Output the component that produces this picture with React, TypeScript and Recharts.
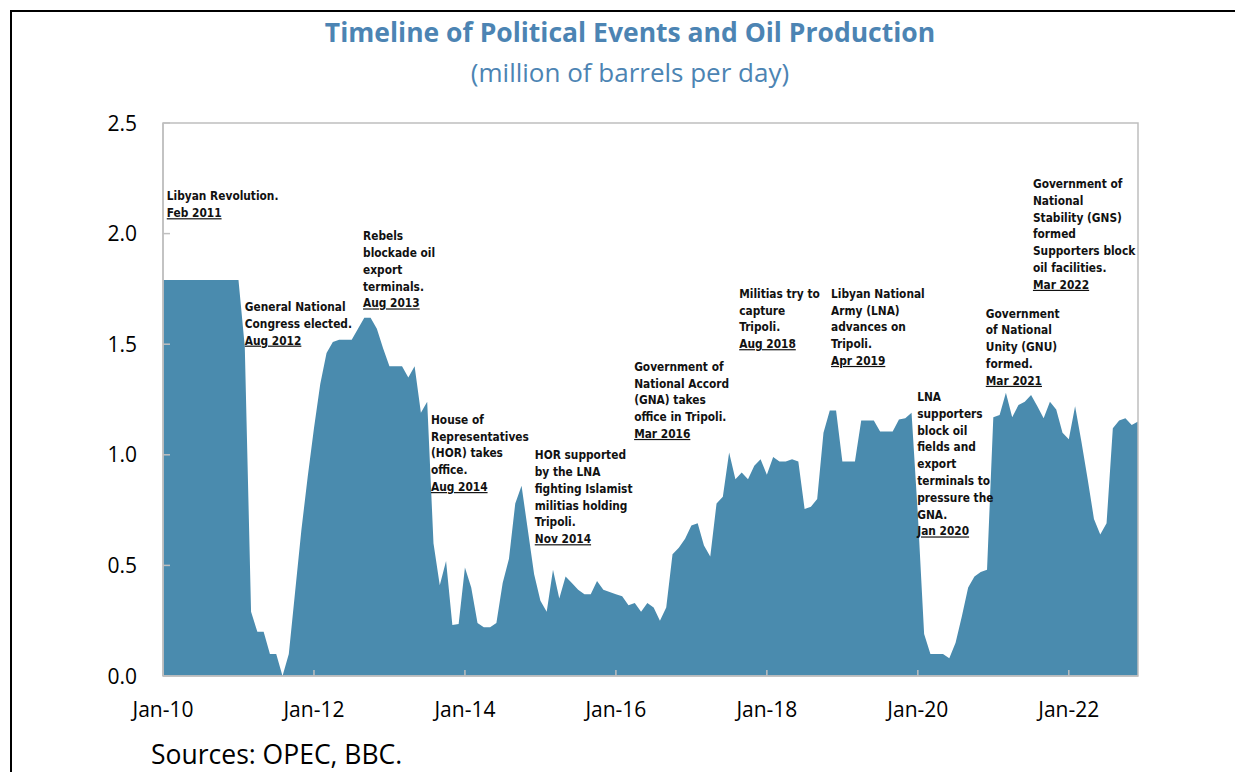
import React from 'react';
import { AreaChart, Area, XAxis, YAxis, ReferenceDot, ReferenceArea } from 'recharts';

// Libyan oil production, million barrels per day, monthly (Jan 2010 - Dec 2022)
const years = ['10', '11', '12', '13', '14', '15', '16', '17', '18', '19', '20', '21', '22'];
const monthNames = ['Jan', 'Feb', 'Mar', 'Apr', 'May', 'Jun', 'Jul', 'Aug', 'Sep', 'Oct', 'Nov', 'Dec'];

const prod2010 = [1.79, 1.79, 1.79, 1.79, 1.79, 1.79, 1.79, 1.79, 1.79, 1.79, 1.79, 1.79];
const prod2011 = [1.79, 1.49, 0.29, 0.2, 0.2, 0.1, 0.1, 0.0, 0.1, 0.38, 0.66, 0.9];
const prod2012 = [1.12, 1.32, 1.46, 1.51, 1.52, 1.52, 1.52, 1.57, 1.62, 1.62, 1.57, 1.48];
const prod2013 = [1.4, 1.4, 1.4, 1.35, 1.4, 1.19, 1.24, 0.6, 0.41, 0.52, 0.23, 0.235];
const prod2014 = [0.49, 0.4, 0.24, 0.22, 0.22, 0.24, 0.42, 0.53, 0.78, 0.86, 0.66, 0.46];
const prod2015 = [0.34, 0.29, 0.48, 0.35, 0.45, 0.42, 0.39, 0.37, 0.37, 0.43, 0.39, 0.38];
const prod2016 = [0.37, 0.36, 0.32, 0.33, 0.29, 0.33, 0.31, 0.25, 0.31, 0.55, 0.58, 0.62];
const prod2017 = [0.68, 0.69, 0.59, 0.54, 0.78, 0.81, 1.01, 0.89, 0.92, 0.89, 0.95, 0.98];
const prod2018 = [0.91, 0.99, 0.97, 0.97, 0.98, 0.97, 0.755, 0.765, 0.8, 1.1, 1.2, 1.2];
const prod2019 = [0.97, 0.97, 0.97, 1.155, 1.155, 1.155, 1.105, 1.105, 1.105, 1.16, 1.165, 1.19];
const prod2020 = [0.73, 0.19, 0.1, 0.1, 0.1, 0.08, 0.15, 0.27, 0.4, 0.45, 0.47, 0.48];
const prod2021 = [1.17, 1.18, 1.28, 1.17, 1.225, 1.24, 1.27, 1.22, 1.165, 1.24, 1.205, 1.1];
const prod2022 = [1.07, 1.22, 1.06, 0.89, 0.71, 0.64, 0.69, 1.12, 1.155, 1.165, 1.135, 1.15];

const production = [
  ...prod2010, ...prod2011, ...prod2012, ...prod2013, ...prod2014, ...prod2015, ...prod2016,
  ...prod2017, ...prod2018, ...prod2019, ...prod2020, ...prod2021, ...prod2022,
];

const months = years.flatMap((y) => monthNames.map((m) => `${m}-${y}`));
const xTickLabels = ['Jan-10', 'Jan-12', 'Jan-14', 'Jan-16', 'Jan-18', 'Jan-20', 'Jan-22'];
const yTicks = [0, 0.5, 1, 1.5, 2, 2.5];

// text boxes: anchored at (month index, level) = first line of the note
const events = [
  { at: 0.6, level: 2.15, lines: ['Libyan Revolution.', 'Feb 2011'] },
  { at: 13.0, level: 1.65, lines: ['General National', 'Congress elected.', 'Aug 2012'] },
  { at: 31.8, level: 1.97, lines: ['Rebels', 'blockade oil', 'export', 'terminals.', 'Aug 2013'] },
  { at: 42.6, level: 1.14, lines: ['House of', 'Representatives', '(HOR) takes', 'office.', 'Aug 2014'] },
  { at: 59.1, level: 0.98, lines: ['HOR supported', 'by the LNA', 'fighting Islamist', 'militias holding', 'Tripoli.', 'Nov 2014'] },
  { at: 74.9, level: 1.38, lines: ['Government of', 'National Accord', '(GNA) takes', 'office in Tripoli.', 'Mar 2016'] },
  { at: 91.6, level: 1.71, lines: ['Militias try to', 'capture', 'Tripoli.', 'Aug 2018'] },
  { at: 106.2, level: 1.71, lines: ['Libyan National', 'Army (LNA)', 'advances on', 'Tripoli.', 'Apr 2019'] },
  { at: 119.9, level: 1.243, lines: ['LNA', 'supporters', 'block oil', 'fields and', 'export', 'terminals to', 'pressure the', 'GNA.', 'Jan 2020'] },
  { at: 130.8, level: 1.62, lines: ['Government', 'of National', 'Unity (GNU)', 'formed.', 'Mar 2021'] },
  { at: 138.3, level: 2.206, lines: ['Government of', 'National', 'Stability (GNS)', 'formed', 'Supporters block', 'oil facilities.', 'Mar 2022'] },
];

const data = production.map((value, i) => ({ i, month: months[i], value }));
const xTicks = xTickLabels.map((l) => months.indexOf(l));

const BLUE = '#4a8bae';
const TITLE = '#4c84b3';
const FRAME = '#bfbfbf';
const UI_FONT = '"Open Sans", "Noto Sans", sans-serif';
const NOTE_FONT = '"DejaVu Sans Condensed", "DejaVu Sans", sans-serif';

const YTick = (props: any) => {
  const { x, y, payload } = props;
  return (
    <g>
      <line x1={x} x2={x + 7} y1={y} y2={y} stroke={FRAME} strokeWidth={1.5} />
      <text x={x - 26} y={y} dy="0.36em" textAnchor="end" fontFamily={UI_FONT} fontSize={21} fill="#000">
        {Number(payload.value).toFixed(1)}
      </text>
    </g>
  );
};

const XTick = (props: any) => {
  const { x, y, payload } = props;
  return (
    <g>
      <line x1={x} x2={x} y1={y} y2={y - 6} stroke={FRAME} strokeWidth={1.5} />
      <text x={x} y={y + 41} textAnchor="middle" fontFamily={UI_FONT} fontSize={21} fill="#000">
        {months[payload.value]}
      </text>
    </g>
  );
};

const EventNote = (lines: string[]) => (props: any) => {
  const { cx, cy } = props;
  return (
    <text x={cx} y={cy} fontFamily={NOTE_FONT} fontSize={11.8} fontWeight="bold" fill="#111">
      {lines.map((line, k) => (
        <tspan
          key={k}
          x={cx}
          dy={k === 0 ? 0 : 16.8}
          style={k === lines.length - 1 ? { textDecoration: 'underline' } : undefined}
        >
          {line}
        </tspan>
      ))}
    </text>
  );
};

// page is 1243x780 with the body's 8px margin: the wrapper fills 1227x764,
// and everything inside is placed in page coordinates via a -8px offset
export default function App() {
  return (
    <div style={{ position: 'relative', width: 1227, height: 764 }}>
      <div style={{ position: 'absolute', left: -8, top: -8, width: 1243, height: 780, overflow: 'hidden', background: '#fff' }}>
        <div
          style={{
            position: 'absolute',
            left: 10,
            top: 10,
            width: 1228,
            height: 800,
            border: '2px solid #000',
            boxSizing: 'border-box',
          }}
        />
        <div
          style={{
            position: 'absolute',
            left: 0,
            top: 14,
            width: 1260,
            textAlign: 'center',
            fontFamily: UI_FONT,
            fontWeight: 700,
            fontSize: 26.5,
            color: TITLE,
            lineHeight: '36px',
          }}
        >
          Timeline of Political Events and Oil Production
        </div>
        <div
          style={{
            position: 'absolute',
            left: 0,
            top: 54,
            width: 1260,
            textAlign: 'center',
            fontFamily: UI_FONT,
            fontSize: 26,
            color: TITLE,
            lineHeight: '36px',
          }}
        >
          (million of barrels per day)
        </div>
        <div
          style={{
            position: 'absolute',
            left: 151,
            top: 740,
            fontFamily: UI_FONT,
            fontSize: 26.5,
            color: '#000',
            lineHeight: '28px',
            whiteSpace: 'nowrap',
          }}
        >
          Sources: OPEC, BBC.
        </div>
        <div style={{ position: 'absolute', left: 0, top: 0 }}>
          <AreaChart width={1243} height={780} data={data} margin={{ top: 123, right: 105, left: 103, bottom: 64 }}>
            <XAxis
              type="number"
              dataKey="i"
              domain={[0, 155]}
              ticks={xTicks}
              interval={0}
              height={40}
              tickSize={0}
              tickMargin={0}
              tickLine={false}
              axisLine={{ stroke: FRAME, strokeWidth: 1.5 }}
              tick={<XTick />}
            />
            <YAxis
              type="number"
              domain={[0, 2.5]}
              ticks={yTicks}
              width={60}
              tickSize={0}
              tickMargin={0}
              tickLine={false}
              axisLine={{ stroke: FRAME, strokeWidth: 1.5 }}
              tick={<YTick />}
            />
            <Area
              type="linear"
              dataKey="value"
              stroke="none"
              fill={BLUE}
              fillOpacity={1}
              isAnimationActive={false}
            />
            <ReferenceArea x1={0} x2={155} y1={0} y2={2.5} fill="none" stroke={FRAME} strokeWidth={1.5} />
            {events.map((e, k) => (
              <ReferenceDot key={k} x={e.at} y={e.level} r={0} shape={EventNote(e.lines)} />
            ))}
          </AreaChart>
        </div>
      </div>
    </div>
  );
}
